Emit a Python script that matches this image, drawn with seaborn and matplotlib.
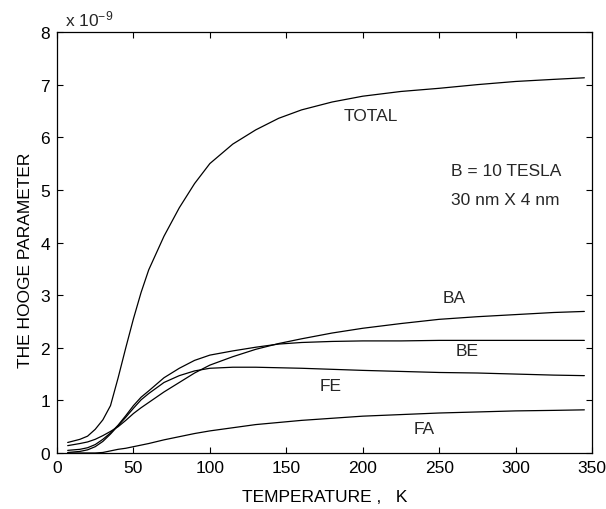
import matplotlib
matplotlib.use("Agg")
import matplotlib.pyplot as plt
import seaborn as sns
import pandas as pd

# Temperature grid (K)
temperature = [7, 15, 20, 25, 30, 35, 40, 45, 50, 55, 60, 70, 80, 90, 100,
               115, 130, 145, 160, 180, 200, 225, 250, 275, 300, 325, 345]

# Hooge parameter values in units of 1e-9
total = [0.20, 0.26, 0.32, 0.45, 0.63, 0.90, 1.43, 2.00, 2.55, 3.05, 3.48, 4.12,
         4.66, 5.12, 5.50, 5.87, 6.14, 6.36, 6.52, 6.67, 6.78, 6.87, 6.93, 7.00,
         7.06, 7.10, 7.13]
ba = [0.14, 0.18, 0.21, 0.26, 0.33, 0.41, 0.50, 0.62, 0.75, 0.86, 0.96, 1.16,
      1.34, 1.52, 1.67, 1.83, 1.97, 2.08, 2.17, 2.28, 2.37, 2.46, 2.54, 2.59,
      2.63, 2.67, 2.69]
be = [0.05, 0.07, 0.10, 0.16, 0.26, 0.38, 0.53, 0.71, 0.90, 1.06, 1.18, 1.43,
      1.61, 1.76, 1.86, 1.94, 2.01, 2.07, 2.10, 2.12, 2.13, 2.13, 2.14, 2.14,
      2.14, 2.14, 2.14]
fe = [0.01, 0.03, 0.06, 0.12, 0.22, 0.36, 0.52, 0.68, 0.85, 1.01, 1.13, 1.34,
      1.47, 1.56, 1.61, 1.63, 1.63, 1.62, 1.61, 1.59, 1.57, 1.55, 1.53, 1.52,
      1.50, 1.48, 1.47]
fa = [0.0, 0.0, 0.0, 0.0, 0.01, 0.04, 0.07, 0.09, 0.12, 0.15, 0.18, 0.25,
      0.31, 0.37, 0.42, 0.48, 0.54, 0.58, 0.62, 0.66, 0.70, 0.73, 0.76, 0.78,
      0.80, 0.81, 0.82]

series_names = ["TOTAL", "BA", "BE", "FE", "FA"]
series_values = [total, ba, be, fe, fa]

xticks = [0, 50, 100, 150, 200, 250, 300, 350]
yticks = [0, 1, 2, 3, 4, 5, 6, 7, 8]

sns.set_theme(style="ticks")
plt.rcParams["font.family"] = ["Liberation Sans", "DejaVu Sans"]
plt.rcParams["mathtext.default"] = "regular"

rows = []
for name, vals in zip(series_names, series_values):
    for t, v in zip(temperature, vals):
        rows.append({"T": t, "H": v, "curve": name})
df = pd.DataFrame(rows)

fig = plt.figure(figsize=(6.06, 5.10), dpi=100)
ax = fig.add_axes([57 / 606, (510 - 454) / 510, (592 - 57) / 606, (454 - 33) / 510])

for name in series_names:
    sub = df[df["curve"] == name]
    sns.lineplot(data=sub, x="T", y="H", ax=ax, color="black", linewidth=0.9,
                 estimator=None, sort=False, legend=False)

FS = 12.5
ax.set_xlim(0, 350)
ax.set_ylim(0, 8)
ax.set_xticks(xticks)
ax.set_yticks(yticks)
ax.set_xticklabels([str(v) for v in xticks])
ax.set_yticklabels([str(v) for v in yticks])
ax.tick_params(direction="in", length=4, width=0.8, top=True, right=True,
               labelsize=FS, colors="black", pad=5)
for s in ax.spines.values():
    s.set_visible(True)
    s.set_color("black")
    s.set_linewidth(0.9)

ax.set_xlabel("TEMPERATURE ,   K", fontsize=FS, color="black")
ax.set_ylabel("THE HOOGE PARAMETER", fontsize=FS, color="black")
ax.xaxis.set_label_coords(0.5, -0.085)
ax.yaxis.set_label_coords(-0.045, 0.46)

ax.text(0.015, 1.008, r"x 10$^{-9}$", transform=ax.transAxes, fontsize=FS,
        va="bottom", ha="left")

ax.text(205, 6.41, "TOTAL", fontsize=FS, ha="center", va="center")
ax.text(258, 5.37, "B = 10 TESLA", fontsize=FS, ha="left", va="center")
ax.text(258, 4.81, "30 nm X 4 nm", fontsize=FS, ha="left", va="center")
ax.text(260, 2.96, "BA", fontsize=FS, ha="center", va="center")
ax.text(268, 1.94, "BE", fontsize=FS, ha="center", va="center")
ax.text(179, 1.29, "FE", fontsize=FS, ha="center", va="center")
ax.text(240, 0.46, "FA", fontsize=FS, ha="center", va="center")

fig.savefig("out.png", dpi=100)
